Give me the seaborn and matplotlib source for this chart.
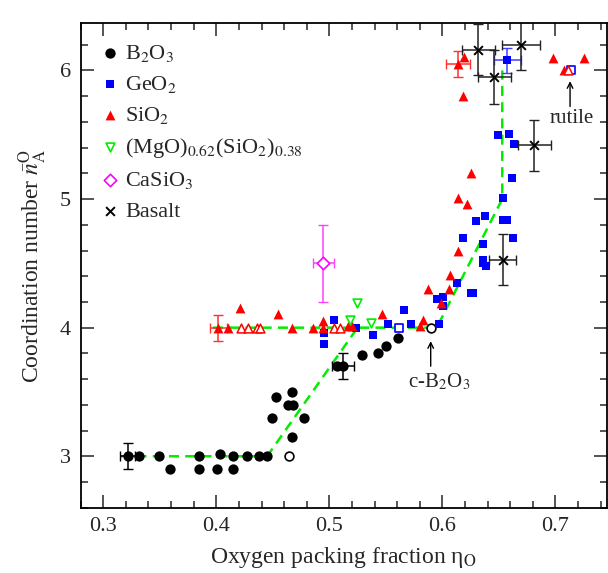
import numpy as np
import pandas as pd
import matplotlib
matplotlib.use("Agg")
import matplotlib.pyplot as plt
import seaborn as sns

# ---------------- data ----------------
b2o3_x = [0.332, 0.349, 0.359, 0.385, 0.385, 0.401, 0.4035, 0.4148, 0.4148, 0.427, 0.438, 0.4446,
          0.449, 0.4526, 0.4667, 0.4637, 0.468, 0.4773, 0.4673, 0.507, 0.5287, 0.5428, 0.550, 0.5605]
b2o3_y = [3.0, 3.0, 2.9, 3.0, 2.9, 2.9, 3.02, 3.0, 2.9, 3.0, 3.0, 3.0,
          3.30, 3.46, 3.50, 3.40, 3.40, 3.30, 3.15, 3.70, 3.784, 3.80, 3.856, 3.92]
b2o3_open_x = [0.4646, 0.5897]
b2o3_open_y = [3.0, 4.0]
b2o3_err_x = [0.3216, 0.512]
b2o3_err_y = [3.0, 3.70]
b2o3_err_dx = [0.0066, 0.010]
b2o3_err_dy = [0.10, 0.10]

geo2_x = [0.4956, 0.4956, 0.504, 0.5233, 0.539, 0.5517, 0.5664, 0.572, 0.597, 0.595, 0.601, 0.601,
          0.6127, 0.6254, 0.627, 0.636, 0.6363, 0.636, 0.639, 0.618, 0.6628, 0.630, 0.6378, 0.654,
          0.6575, 0.654, 0.662, 0.6496, 0.6593, 0.6635]
geo2_y = [3.955, 3.87, 4.06, 4.0, 3.94, 4.025, 4.14, 4.03, 4.03, 4.22, 4.24, 4.17,
          4.35, 4.27, 4.27, 4.647, 4.53, 4.50, 4.48, 4.70, 4.70, 4.83, 4.865, 4.84,
          4.84, 5.007, 5.166, 5.50, 5.51, 5.425]
geo2_open_x = [0.562, 0.7136]
geo2_open_y = [4.0, 6.0]
geo2_err_x = [0.6575]
geo2_err_y = [6.078]
geo2_err_dx = [0.012]
geo2_err_dy = [0.10]

sio2_x = [0.4106, 0.4212, 0.4546, 0.467, 0.4858, 0.4947, 0.4947, 0.5168, 0.520, 0.547, 0.5803,
          0.5832, 0.5876, 0.5989, 0.6068, 0.606, 0.6142, 0.6216, 0.6142, 0.625, 0.6186, 0.6192,
          0.6982, 0.7257, 0.7077]
sio2_y = [4.0, 4.155, 4.108, 4.0, 4.0, 4.05, 4.0, 4.01, 4.01, 4.11, 4.01,
          4.06, 4.30, 4.19, 4.41, 4.30, 4.60, 4.958, 5.005, 5.20, 5.80, 6.107,
          6.10, 6.10, 6.0]
sio2_open_x = [0.4216, 0.4283, 0.4357, 0.4387, 0.504, 0.5095, 0.711]
sio2_open_y = [4.0, 4.0, 4.0, 4.0, 4.0, 4.0, 6.0]
sio2_err_x = [0.4018, 0.6136]
sio2_err_y = [4.0, 6.05]
sio2_err_dx = [0.0074, 0.0106]
sio2_err_dy = [0.10, 0.10]

mgsio_x = [0.5183, 0.5248, 0.537]
mgsio_y = [4.06, 4.19, 4.04]

casio3_x = [0.4947]
casio3_y = [4.50]
casio3_dx = [0.0093]
casio3_dy = [0.30]

basalt_x = [0.6319, 0.646, 0.6697, 0.6814, 0.6534]
basalt_y = [6.163, 5.95, 6.202, 5.417, 4.53]
basalt_dx = [0.0148, 0.0145, 0.017, 0.0148, 0.0122]
basalt_dy = [0.20, 0.207, 0.20, 0.20, 0.20]

guide1_x = [0.315, 0.445, 0.525]
guide1_y = [3.0, 3.0, 4.0]
guide2_x = [0.397, 0.595, 0.653, 0.653]
guide2_y = [4.0, 4.0, 5.0, 6.0]

# ---------------- style ----------------
sns.set_style("ticks")
plt.rcParams['font.family'] = ['Liberation Serif', 'DejaVu Serif']
plt.rcParams['mathtext.fontset'] = 'stix'

fig = plt.figure(figsize=(6.08, 5.73), dpi=100)
ax = fig.add_axes([0.1327, 0.114, 0.998 - 0.1327, 0.96 - 0.114])

GREEN = '#00ee00'
BLUE = '#0000ff'
RED = '#ff0000'
MAG = '#ff00ff'

# guide lines
sns.lineplot(x=guide1_x, y=guide1_y, sort=False, estimator=None, ax=ax, color=GREEN,
             linestyle=(0, (4, 2.5)), linewidth=1.8, zorder=1)
sns.lineplot(x=guide2_x, y=guide2_y, sort=False, estimator=None, ax=ax, color=GREEN,
             linestyle=(0, (4, 2.5)), linewidth=1.8, zorder=1)

# error bars
ax.errorbar(b2o3_err_x, b2o3_err_y, xerr=b2o3_err_dx, yerr=b2o3_err_dy, fmt='none',
            ecolor='black', elinewidth=1.1, capsize=3.5, zorder=2)
ax.errorbar(geo2_err_x, geo2_err_y, xerr=geo2_err_dx, yerr=geo2_err_dy, fmt='none',
            ecolor='#4040ff', elinewidth=1.1, capsize=3.5, zorder=2)
ax.errorbar(sio2_err_x, sio2_err_y, xerr=sio2_err_dx, yerr=sio2_err_dy, fmt='none',
            ecolor='#ff3030', elinewidth=1.1, capsize=3.5, zorder=2)
ax.errorbar(casio3_x, casio3_y, xerr=casio3_dx, yerr=casio3_dy, fmt='none',
            ecolor='#ff40ff', elinewidth=1.1, capsize=3.5, zorder=2)
ax.errorbar(basalt_x, basalt_y, xerr=basalt_dx, yerr=basalt_dy, fmt='none',
            ecolor='#222222', elinewidth=1.1, capsize=3.5, zorder=2)

# scatter series
sns.scatterplot(x=b2o3_x + b2o3_err_x, y=b2o3_y + b2o3_err_y, ax=ax, marker='o', s=55,
                color='black', edgecolor='black', linewidth=0, label='B$_2$O$_3$', zorder=3)
sns.scatterplot(x=b2o3_open_x, y=b2o3_open_y, ax=ax, marker='o', s=40,
                facecolors='white', edgecolor='black', linewidth=1.2, zorder=3)
sns.scatterplot(x=geo2_x + geo2_err_x, y=geo2_y + geo2_err_y, ax=ax, marker='s', s=40,
                color=BLUE, edgecolor=BLUE, linewidth=0, label='GeO$_2$', zorder=3)
sns.scatterplot(x=geo2_open_x, y=geo2_open_y, ax=ax, marker='s', s=35,
                facecolors='white', edgecolor=BLUE, linewidth=1.2, zorder=3)
sns.scatterplot(x=sio2_x + sio2_err_x, y=sio2_y + sio2_err_y, ax=ax, marker='^', s=50,
                color=RED, edgecolor=RED, linewidth=0, label='SiO$_2$', zorder=3)
sns.scatterplot(x=sio2_open_x, y=sio2_open_y, ax=ax, marker='^', s=40,
                facecolors='white', edgecolor=RED, linewidth=1.1, zorder=3)
sns.scatterplot(x=mgsio_x, y=mgsio_y, ax=ax, marker='v', s=40,
                facecolors='white', edgecolor=GREEN, linewidth=1.2,
                label='(MgO)$_{0.62}$(SiO$_2$)$_{0.38}$', zorder=3)
sns.scatterplot(x=casio3_x, y=casio3_y, ax=ax, marker='D', s=40,
                facecolors='white', edgecolor=MAG, linewidth=1.2, label='CaSiO$_3$', zorder=3)
sns.scatterplot(x=basalt_x, y=basalt_y, ax=ax, marker='x', s=40,
                color='black', linewidth=1.4, label='Basalt', zorder=3)

# annotations
ax.annotate('', xy=(0.5897, 3.895), xytext=(0.5897, 3.70),
            arrowprops=dict(arrowstyle='->', color='black', lw=1.0, shrinkA=0, shrinkB=0))
ax.text(0.597, 3.574, 'c-B$_2$O$_3$', ha='center', va='center', fontsize=15)
ax.annotate('', xy=(0.713, 5.917), xytext=(0.713, 5.72),
            arrowprops=dict(arrowstyle='->', color='black', lw=1.0, shrinkA=0, shrinkB=0))
ax.text(0.7143, 5.627, 'rutile', ha='center', va='center', fontsize=15)

# axes
ax.set_xlim(0.28, 0.7455)
ax.set_ylim(2.6, 6.37)
ax.set_xticks([0.3, 0.4, 0.5, 0.6, 0.7])
ax.set_xticks(np.arange(0.28, 0.745, 0.02), minor=True)
ax.set_yticks([3, 4, 5, 6])
ax.set_yticks(np.arange(2.6, 6.37, 0.2), minor=True)
ax.set_xticklabels(['0.3', '0.4', '0.5', '0.6', '0.7'])
ax.set_yticklabels(['3', '4', '5', '6'])
ax.tick_params(which='both', direction='in', top=True, right=True, labelsize=16, width=1.1)
ax.tick_params(which='major', length=9.5, pad=7)
ax.tick_params(which='minor', length=5)
for sp in ax.spines.values():
    sp.set_linewidth(1.3)
    sp.set_color('black')

ax.set_xlabel('Oxygen packing fraction η$_\\mathrm{O}$', fontsize=17, labelpad=6)
ax.set_ylabel(r'Coordination number $\bar{n}_\mathrm{A}^\mathrm{O}$', fontsize=17, labelpad=8)

leg = ax.legend(loc='upper left', frameon=False, fontsize=16, handletextpad=0.1,
                labelspacing=0.45, borderaxespad=0.3, markerscale=1.0, handlelength=1.2,
                bbox_to_anchor=(0.0, 0.99))

fig.savefig('out.png', dpi=100)
